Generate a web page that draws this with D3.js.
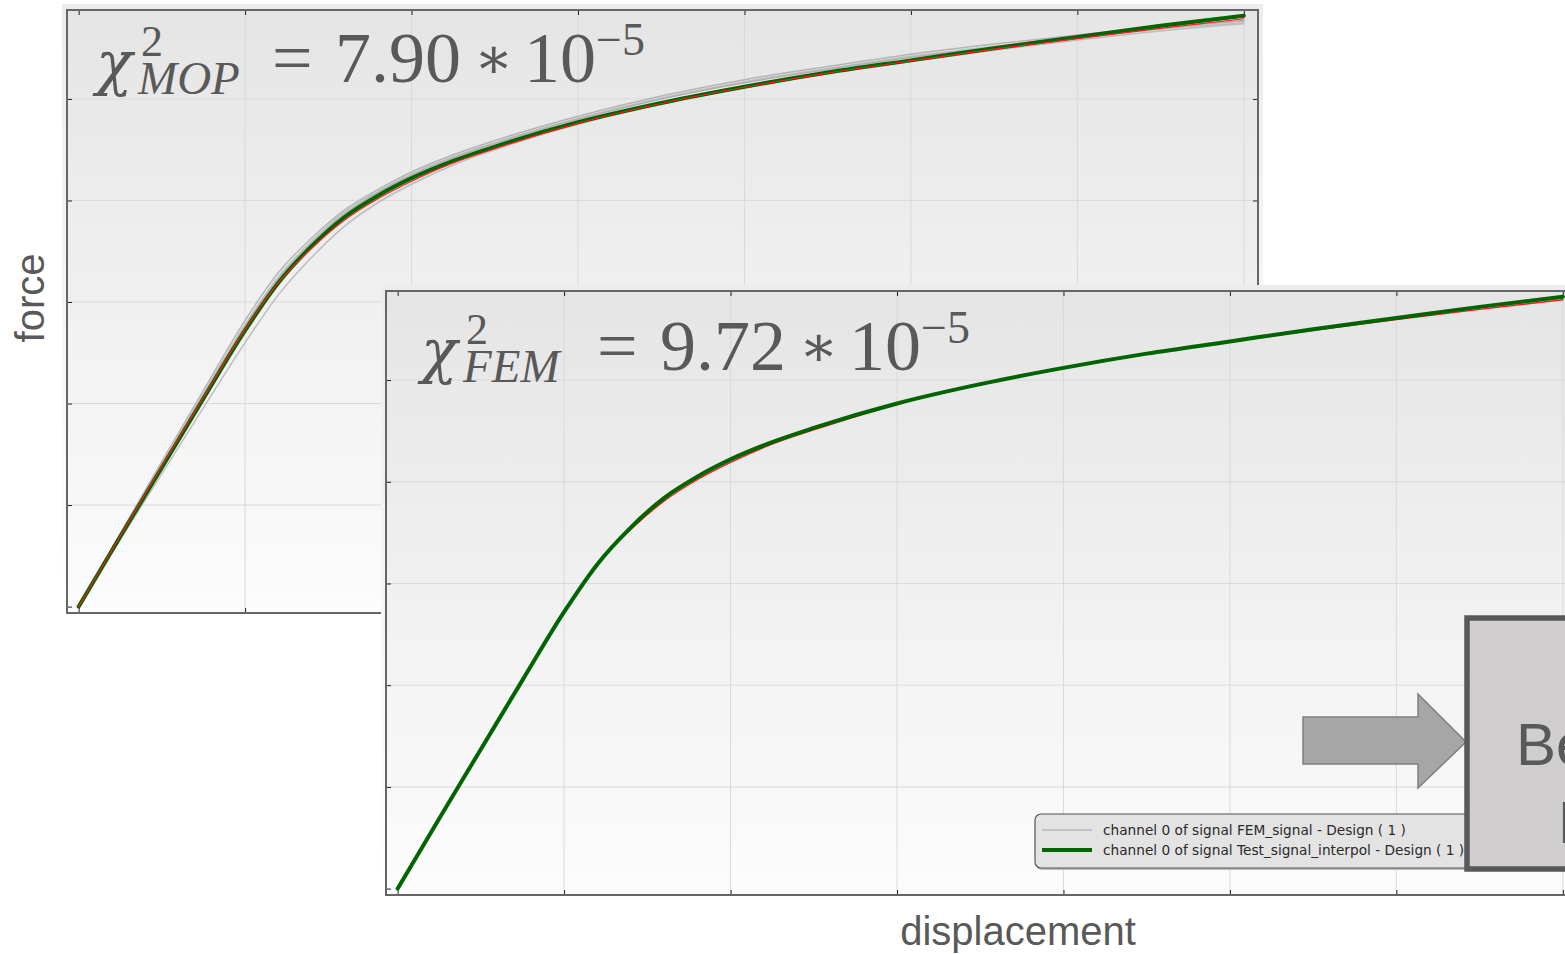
<!DOCTYPE html>
<html>
<head>
<meta charset="utf-8">
<script src="https://cdn.jsdelivr.net/npm/d3@7"></script>
<style>
  html, body { margin: 0; padding: 0; background: #ffffff; }
  svg { display: block; }
</style>
</head>
<body>
<svg id="chart" width="1565" height="954"></svg>
<script>
// Displacement samples (tick units) shared by every curve
const displacement = [0, 0.25, 0.5, 0.75, 1.0, 1.2, 1.4, 1.6, 1.8, 2.0, 2.25, 2.5, 3.0, 3.5, 4.0, 4.5, 5.0, 5.5, 6.0, 6.5, 7.0];

// Measured test signal (interpolated)
const testForce = [0, 0.69, 1.37, 2.05, 2.72, 3.19, 3.55, 3.84, 4.05, 4.22, 4.39, 4.53, 4.77, 4.96, 5.12, 5.26, 5.38, 5.50, 5.61, 5.72, 5.82];

// Best fitting simulation result
const fitForce = [0, 0.695, 1.385, 2.06, 2.73, 3.19, 3.53, 3.81, 4.02, 4.19, 4.37, 4.51, 4.76, 4.955, 5.115, 5.255, 5.375, 5.49, 5.595, 5.695, 5.79];

// FEM signal designs around the optimum (MOP sampling)
const femDesignA = [0, 0.72, 1.43, 2.13, 2.82, 3.29, 3.63, 3.91, 4.11, 4.28, 4.45, 4.59, 4.83, 5.03, 5.19, 5.32, 5.44, 5.54, 5.63, 5.71, 5.77];
const femDesignB = [0, 0.71, 1.41, 2.10, 2.78, 3.25, 3.60, 3.89, 4.09, 4.26, 4.43, 4.57, 4.81, 5.01, 5.17, 5.30, 5.42, 5.52, 5.61, 5.69, 5.75];
const femDesignC = [0, 0.70, 1.39, 2.08, 2.76, 3.23, 3.58, 3.87, 4.08, 4.25, 4.42, 4.56, 4.80, 5.00, 5.16, 5.29, 5.41, 5.51, 5.61, 5.70, 5.77];
const femDesignD = [0, 0.66, 1.31, 1.96, 2.60, 3.07, 3.44, 3.75, 3.98, 4.16, 4.35, 4.50, 4.75, 4.95, 5.11, 5.25, 5.37, 5.48, 5.58, 5.67, 5.74];
// FEM signal of the final design (lies on the test curve)
const femFinal = [0, 0.69, 1.37, 2.05, 2.72, 3.19, 3.55, 3.84, 4.05, 4.22, 4.39, 4.53, 4.77, 4.96, 5.12, 5.26, 5.38, 5.50, 5.61, 5.72, 5.82];

const xTicks = [0, 1, 2, 3, 4, 5, 6, 7];
const yTicks = [0, 1, 2, 3, 4, 5];
const xDomain = [-0.07, 7.085];
const yDomain = [-0.063, 5.876];

const legendLabels = [
  "channel 0 of signal FEM_signal - Design ( 1 )",
  "channel 0 of signal Test_signal_interpol - Design ( 1 )"
];

const svg = d3.select("#chart");
const defs = svg.append("defs");

function grad(id, c0, c1) {
  const g = defs.append("linearGradient").attr("id", id)
    .attr("x1", 0).attr("y1", 0).attr("x2", 0).attr("y2", 1);
  g.append("stop").attr("offset", "0%").attr("stop-color", c0);
  g.append("stop").attr("offset", "100%").attr("stop-color", c1);
}
grad("panelGrad", "#ececec", "#ffffff");
grad("plotGrad", "#e5e5e5", "#fcfcfc");

const TEXT = "#595959";
const SERIF = "Liberation Serif, serif";

function drawChart(cfg) {
  const { left, top, width, height, id, series, formula } = cfg;
  const x = d3.scaleLinear().domain(xDomain).range([0, width]);
  const y = d3.scaleLinear().domain(yDomain).range([height, 0]);

  // outer panel
  svg.append("rect")
    .attr("x", left - 5).attr("y", top - 6)
    .attr("width", width + 10).attr("height", height + 8)
    .attr("fill", "url(#panelGrad)");

  const g = svg.append("g").attr("transform", `translate(${left},${top})`);

  g.append("rect").attr("width", width).attr("height", height)
    .attr("fill", "url(#plotGrad)");

  defs.append("clipPath").attr("id", "clip-" + id)
    .append("rect").attr("width", width).attr("height", height);

  // grid
  g.append("g").selectAll("line").data(xTicks.slice(1)).join("line")
    .attr("x1", d => x(d)).attr("x2", d => x(d))
    .attr("y1", 0).attr("y2", height)
    .attr("stroke", "#d9d9d9").attr("stroke-width", 1);
  g.append("g").selectAll("line").data(yTicks.slice(1)).join("line")
    .attr("y1", d => y(d)).attr("y2", d => y(d))
    .attr("x1", 0).attr("x2", width)
    .attr("stroke", "#d9d9d9").attr("stroke-width", 1);

  // inward ticks on all four sides, no labels
  const tk = -5;
  const axes = [
    [d3.axisBottom(x), `translate(0,${height})`, xTicks],
    [d3.axisTop(x), `translate(0,0)`, xTicks],
    [d3.axisLeft(y), `translate(0,0)`, yTicks],
    [d3.axisRight(y), `translate(${width},0)`, yTicks]
  ];
  axes.forEach(([ax, tr, tv]) => {
    const a = g.append("g").attr("transform", tr)
      .call(ax.tickValues(tv).tickSize(tk).tickFormat(""));
    a.select(".domain").remove();
    a.selectAll(".tick line").attr("stroke", "#222").attr("stroke-width", 1);
  });

  // curves
  const line = d3.line()
    .x((d, i) => x(displacement[i]))
    .y(d => y(d))
    .curve(d3.curveMonotoneX);
  const cg = g.append("g").attr("clip-path", `url(#clip-${id})`);
  series.forEach(s => {
    cg.append("path").datum(s.values)
      .attr("d", line)
      .attr("fill", "none")
      .attr("stroke", s.color)
      .attr("stroke-width", s.width)
      .attr("stroke-linejoin", "round")
      .attr("stroke-linecap", "round");
  });

  // frame
  g.append("rect").attr("width", width).attr("height", height)
    .attr("fill", "none").attr("stroke", "#666").attr("stroke-width", 2);

  // chi-square annotation
  const f = formula;
  const ft = svg.append("g").attr("fill", TEXT);
  ft.append("text").attr("x", f.x - 2).attr("y", f.base + 2)
    .attr("font-family", "DejaVu Serif, serif").attr("font-style", "italic")
    .attr("font-size", 60).text("χ");
  ft.append("text").attr("x", f.x + 40).attr("y", f.base + 12)
    .attr("font-family", SERIF).attr("font-style", "italic")
    .attr("font-size", 47).text(f.sub);
  ft.append("text").attr("x", f.x + 43).attr("y", f.base - 26)
    .attr("font-family", SERIF)
    .attr("font-size", 44).text("2");
  ft.append("text").attr("x", f.x + 174).attr("y", f.base)
    .attr("font-family", SERIF)
    .attr("font-size", 72).text("=");
  ft.append("text").attr("x", f.x + 237).attr("y", f.base)
    .attr("font-family", SERIF)
    .attr("font-size", 72).text(f.value);
  ft.append("text").attr("x", f.x + 376).attr("y", f.base - 4)
    .attr("font-family", "DejaVu Serif, serif")
    .attr("font-size", 58).text("∗");
  ft.append("text").attr("x", f.x + 426).attr("y", f.base)
    .attr("font-family", SERIF)
    .attr("font-size", 72).text("10");
  ft.append("text").attr("x", f.x + 498).attr("y", f.base - 27)
    .attr("font-family", SERIF)
    .attr("font-size", 46).text("−5");

  return { g, x, y };
}

// Back chart: MOP sampling
drawChart({
  left: 67, top: 10, width: 1191, height: 603, id: "mop",
  formula: { x: 98, base: 82, sub: "MOP", value: "7.90" },
  series: [
    { values: femDesignA, color: "#b5b5b5", width: 1.5 },
    { values: femDesignB, color: "#c0c0c0", width: 1.5 },
    { values: femDesignC, color: "#b0b0b0", width: 1.5 },
    { values: femDesignD, color: "#bdbdbd", width: 1.5 },
    { values: testForce, color: "#006400", width: 4 },
    { values: fitForce, color: "#ff1a1a", width: 1.2 }
  ]
});

// Front chart: FEM verification
drawChart({
  left: 386, top: 291, width: 1191, height: 604, id: "fem",
  formula: { x: 423, base: 370, sub: "FEM", value: "9.72" },
  series: [
    { values: femFinal, color: "#b5b5b5", width: 1.5 },
    { values: fitForce, color: "#ff1a1a", width: 1.4 },
    { values: testForce, color: "#006400", width: 4 },
  ]
});

// legend of the front chart
const lg = svg.append("g").attr("transform", "translate(1035,814)");
lg.append("rect").attr("x", 1).attr("y", 2).attr("width", 470).attr("height", 54)
  .attr("rx", 6).attr("fill", "#bdbdbd");
lg.append("rect").attr("width", 470).attr("height", 54).attr("rx", 6)
  .attr("fill", "#e3e3e3").attr("stroke", "#555").attr("stroke-width", 1.2);
legendLabels.forEach((t, i) => {
  const yy = 16 + i * 20;
  lg.append("line").attr("x1", 7).attr("x2", 57).attr("y1", yy).attr("y2", yy)
    .attr("stroke", i === 0 ? "#b8b8b8" : "#006400")
    .attr("stroke-width", i === 0 ? 1.5 : 4);
  lg.append("text").attr("x", 68).attr("y", yy + 5)
    .attr("font-family", "DejaVu Sans, Verdana, sans-serif")
    .attr("font-size", 13.7).attr("fill", "#2a2a2a").text(t);
});

// block arrow pointing to the result box
svg.append("path")
  .attr("d", "M1303,717 L1418,717 L1418,694 L1466,742 L1418,788 L1418,764 L1303,764 Z")
  .attr("fill", "#a6a6a6").attr("stroke", "#7f7f7f").attr("stroke-width", 1.5);

// result box
svg.append("rect").attr("x", 1467).attr("y", 618).attr("width", 200).attr("height", 251)
  .attr("fill", "#d0cece").attr("stroke", "#595959").attr("stroke-width", 5.5);
svg.append("text").attr("x", 1516).attr("y", 765)
  .attr("font-family", "Liberation Sans, Arial, sans-serif")
  .attr("font-size", 60).attr("fill", TEXT).text("Best");
svg.append("text").attr("x", 1558).attr("y", 843)
  .attr("font-family", "Liberation Sans, Arial, sans-serif")
  .attr("font-size", 60).attr("fill", TEXT).text("Design");

// axis titles
svg.append("text")
  .attr("transform", "translate(44,298) rotate(-90)")
  .attr("text-anchor", "middle")
  .attr("font-family", "Liberation Sans, Arial, sans-serif")
  .attr("font-size", 40).attr("fill", TEXT).text("force");
svg.append("text")
  .attr("x", 1018).attr("y", 945)
  .attr("text-anchor", "middle")
  .attr("font-family", "Liberation Sans, Arial, sans-serif")
  .attr("font-size", 40).attr("fill", TEXT).text("displacement");
</script>
</body>
</html>
